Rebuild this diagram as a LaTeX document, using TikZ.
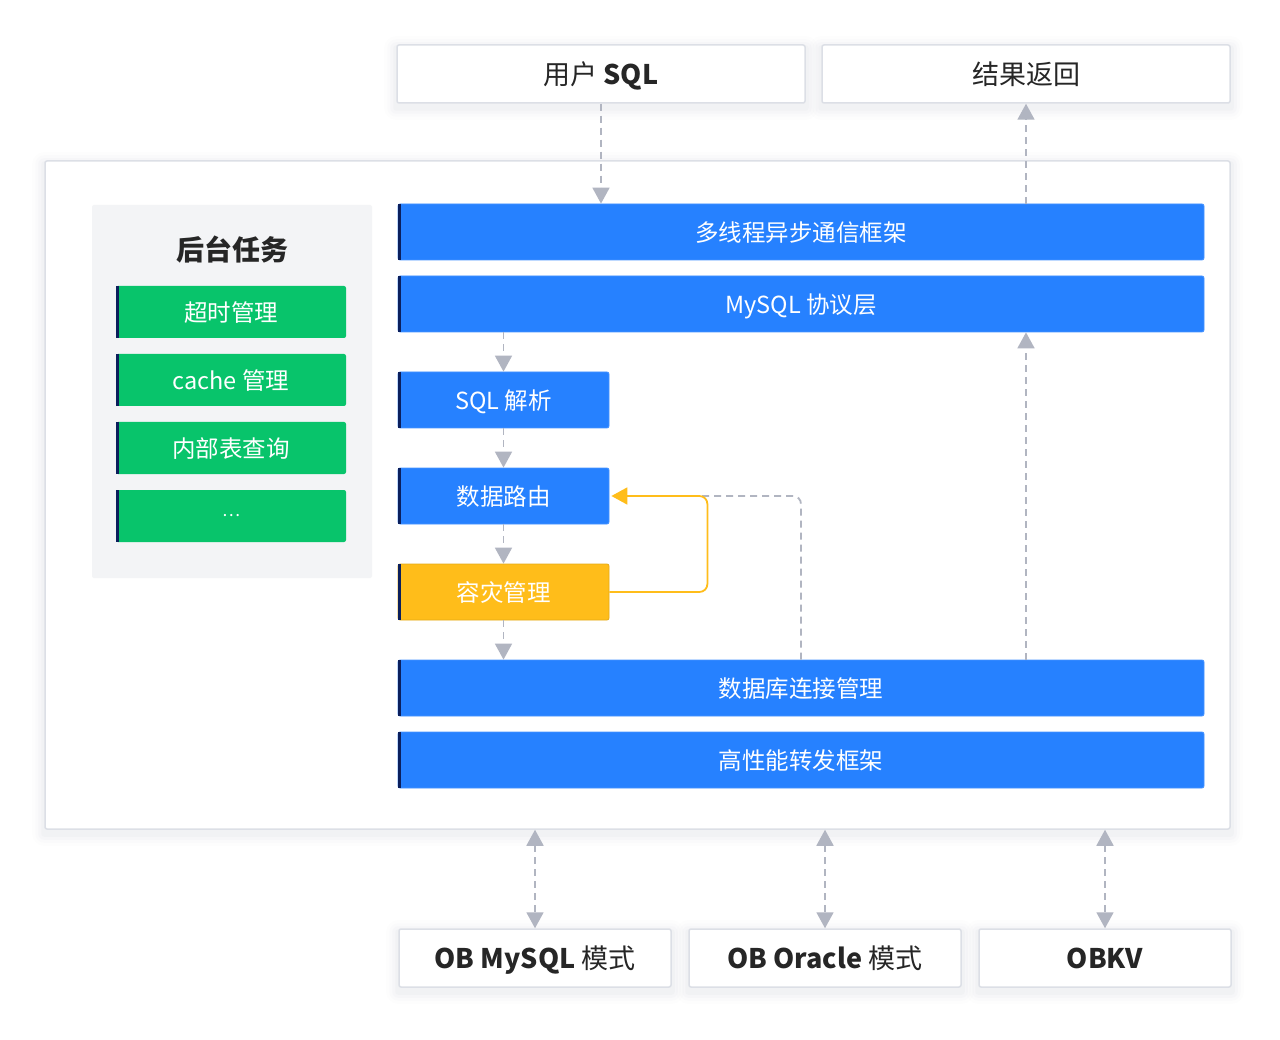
\documentclass[tikz,border=0pt]{standalone}
\usepackage{fontspec}
\setmainfont{Noto Sans CJK SC}
\usetikzlibrary{arrows.meta,backgrounds}

\definecolor{obblue}{HTML}{2681FF}
\definecolor{obnavy}{HTML}{0B1F5C}
\definecolor{obgreen}{HTML}{08C46B}
\definecolor{obyellow}{HTML}{FFBD1A}
\definecolor{obgrayline}{HTML}{B1B5C1}
\definecolor{obborder}{HTML}{DCDFE6}
\definecolor{obpanel}{HTML}{F3F4F6}
\definecolor{obtext}{HTML}{262626}
\definecolor{obshade}{HTML}{8A93A8}

% dark accent bar on the left edge of a box
\newcommand\leftstripe[1]{\fill[obnavy] (#1.north west) rectangle ([xshift=3pt]#1.south west);}
% soft shadow built from a few translucent layers behind a node
\newcommand\softshadow[1]{%
  \begin{pgfonlayer}{background}
    \foreach \g/\o in {12/0.015,9/0.02,6/0.03,3/0.04}{
      \fill[obshade, opacity=\o, rounded corners=\g pt]
        ([shift={(-\g,-\g+4)}]#1.north west) rectangle ([shift={(\g,\g+4)}]#1.south east);
    }
  \end{pgfonlayer}}

\tikzset{
  basebox/.style={rectangle, rounded corners=2pt, inner sep=0pt, align=center},
  bigtext/.style={font=\fontsize{27}{27}\selectfont, text height=21.4pt, text depth=0pt},
  titletext/.style={font=\fontsize{28}{28}\selectfont\bfseries, text height=22.2pt, text depth=0pt},
  smalltext/.style={font=\fontsize{23.5}{23.5}\selectfont, text height=19.4pt, text depth=0pt},
  whitebox/.style={basebox, bigtext, fill=white, draw=obborder, line width=1.5pt, text=obtext},
  bluebox/.style={basebox, smalltext, fill=obblue, draw=obblue!85!white, line width=0.8pt, text=white},
  widebox/.style={bluebox, minimum width=806pt, minimum height=56pt},
  stagebox/.style={bluebox, minimum width=211pt, minimum height=56pt},
  greenbox/.style={basebox, smalltext, fill=obgreen, text=white, minimum width=230pt,
    minimum height=52pt},
  flow/.style={draw=obgrayline, line width=1.8pt, dash pattern=on 7pt off 5pt},
  tip/.style={-{Triangle[width=17pt,length=16pt]}},
  bothtips/.style={{Triangle[width=17pt,length=16pt]}-{Triangle[width=17pt,length=16pt]}},
}

\begin{document}
\begin{tikzpicture}[x=1pt,y=-1pt]
  % canvas
  \begin{pgfonlayer}{background}
    \fill[white] (0,0) rectangle (1280,1040);
  \end{pgfonlayer}
  \useasboundingbox (0,0) rectangle (1280,1040);

  % outer proxy container
  \node[basebox, fill=white, draw=obborder, line width=1.5pt,
        minimum width=1185pt, minimum height=668pt] (core) at (637.5,495) {};
  \softshadow{core}

  % input / output
  \node[whitebox, minimum width=408pt, minimum height=58pt] (user) at (601,74) {用户 \textbf{SQL}};
  \node[whitebox, minimum width=408pt, minimum height=58pt] (res) at (1026,74) {结果返回};
  \softshadow{user}\softshadow{res}

  % background tasks panel
  \node[basebox, fill=obpanel, minimum width=280pt, minimum height=373pt] (panel) at (232,391.5) {};
  \node[titletext, inner sep=0pt, text=obtext] (ptitle) at (232,249) {后台任务};
  \node[greenbox] (g1) at (231,312) {超时管理};
  \node[greenbox] (g2) at (231,380) {cache 管理};
  \node[greenbox] (g3) at (231,448) {内部表查询};
  \node[greenbox, font=\fontsize{17}{17}\selectfont, text height=1.5pt] (g4) at (231,516) {…};
  \leftstripe{g1}\leftstripe{g2}\leftstripe{g3}\leftstripe{g4}

  % main pipeline
  \node[widebox] (comm) at (801,232) {多线程异步通信框架};
  \node[widebox] (proto) at (801,304) {MySQL 协议层};
  \node[stagebox] (parse) at (503.5,400) {SQL 解析};
  \node[stagebox] (route) at (503.5,496) {数据路由};
  \node[stagebox, fill=obyellow, draw=obyellow!90!black] (dr) at (503.5,592) {容灾管理};
  \node[widebox] (conn) at (801,688) {数据库连接管理};
  \node[widebox] (fwd) at (801,760) {高性能转发框架};
  \leftstripe{comm}\leftstripe{proto}\leftstripe{parse}\leftstripe{route}
  \leftstripe{dr}\leftstripe{conn}\leftstripe{fwd}

  % backends
  \node[whitebox, minimum width=272pt, minimum height=58pt] (m1) at (535,958) {\textbf{OB MySQL} 模式};
  \node[whitebox, minimum width=272pt, minimum height=58pt] (m2) at (825,958) {\textbf{OB Oracle} 模式};
  \node[whitebox, minimum width=252pt, minimum height=58pt] (m3) at (1105,958) {\textbf{OBKV}};
  \softshadow{m1}\softshadow{m2}\softshadow{m3}

  % request path
  \draw[flow, tip, obgrayline] (user.south) -- (comm.north -| user.south);
  \draw[flow, tip, obgrayline] (comm.north -| res.south) -- (res.south);
  \draw[flow, tip, obgrayline] (proto.south -| parse.north) -- (parse.north);
  \draw[flow, tip, obgrayline] (parse.south) -- (route.north);
  \draw[flow, tip, obgrayline] (route.south) -- (dr.north);
  \draw[flow, tip, obgrayline] (dr.south) -- (conn.north -| dr.south);
  \draw[flow, tip, obgrayline] (conn.north -| res.south) -- (proto.south -| res.south);

  % feedback from connection management into routing
  \draw[flow, rounded corners=8pt] (conn.north) |- ([xshift=76pt]route.east);
  \draw[obyellow, line width=1.8pt, rounded corners=8pt,
        -{Triangle[width=17pt,length=16pt]}]
        (dr.east) -- ++(98,0) |- ([xshift=2pt]route.east);

  % backend links
  \draw[flow, bothtips, obgrayline] (m1.north |- core.south) -- (m1.north);
  \draw[flow, bothtips, obgrayline] (m2.north |- core.south) -- (m2.north);
  \draw[flow, bothtips, obgrayline] (m3.north |- core.south) -- (m3.north);
\end{tikzpicture}
\end{document}
